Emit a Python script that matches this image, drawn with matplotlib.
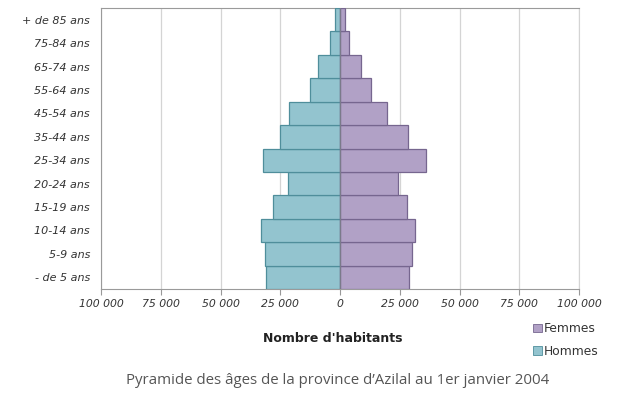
import numpy as np
import matplotlib
matplotlib.use("Agg")
import matplotlib.pyplot as plt
from matplotlib.ticker import FuncFormatter
from matplotlib.patches import Patch

ages = ["- de 5 ans", "5-9 ans", "10-14 ans", "15-19 ans", "20-24 ans",
        "25-34 ans", "35-44 ans", "45-54 ans", "55-64 ans", "65-74 ans",
        "75-84 ans", "+ de 85 ans"]
hommes = [30800, 31200, 33200, 27900, 21600, 32400, 25000, 21400, 12700, 9250, 4300, 2100]
femmes = [29000, 30300, 31300, 28200, 24400, 35900, 28300, 19500, 13000, 8700, 3950, 2000]
xticks = [-100000, -75000, -50000, -25000, 0, 25000, 50000, 75000, 100000]

col_h, edge_h = "#93c4cf", "#4f8e9b"
col_f, edge_f = "#b1a1c6", "#76668f"

fig = plt.figure(figsize=(6.23, 3.95), dpi=100)
ax = fig.add_axes([101 / 623, 1 - 289 / 395, 478 / 623, 281 / 395])

y = np.arange(len(ages))
ax.barh(y, [-v for v in hommes], height=1.0, color=col_h, edgecolor=edge_h, linewidth=0.9, zorder=3)
ax.barh(y, femmes, height=1.0, color=col_f, edgecolor=edge_f, linewidth=0.9, zorder=3)
ax.axvline(0, color="#7a7a8a", lw=0.9, zorder=4)

ax.set_xlim(-100000, 100000)
ax.set_ylim(-0.5, len(ages) - 0.5)
ax.set_xticks(xticks)
ax.xaxis.set_major_formatter(FuncFormatter(lambda v, p: f"{abs(int(v)):,}".replace(",", " ")))
ax.set_yticks(y)
ax.set_yticklabels(ages)
ax.grid(axis="x", color="#d4d4d4", lw=0.9, zorder=0)
ax.tick_params(axis="y", length=0, pad=8, labelsize=8, labelcolor="#333333")
ax.tick_params(axis="x", length=4, color="#999999", pad=3, labelsize=7.8, labelcolor="#333333")
for lab in ax.get_xticklabels() + ax.get_yticklabels():
    lab.set_fontstyle("italic")
for s in ["left", "bottom", "top"]:
    ax.spines[s].set_color("#9a9a9a")
ax.spines["right"].set_color("#d4d4d4")

fig.text(333 / 623, 1 - 339 / 395, "Nombre d'habitants", ha="center", va="center",
         fontsize=9, fontweight="bold", color="#222222")

handles = [Patch(facecolor=col_f, edgecolor=edge_f, lw=0.6),
           Patch(facecolor=col_h, edgecolor=edge_h, lw=0.6)]
fig.legend(handles, ["Femmes", "Hommes"], loc="center left",
           bbox_to_anchor=(522 / 623, 1 - 340 / 395), frameon=False,
           fontsize=8.8, handlelength=0.7, handleheight=0.7, handletextpad=0.2,
           labelspacing=0.75, labelcolor="#333333")

fig.text(338 / 623, 1 - 381 / 395,
         "Pyramide des âges de la province d’Azilal au 1er janvier 2004",
         ha="center", va="center", fontsize=10.8, color="#555555", family="Open Sans")

fig.savefig("out.png", dpi=100)
